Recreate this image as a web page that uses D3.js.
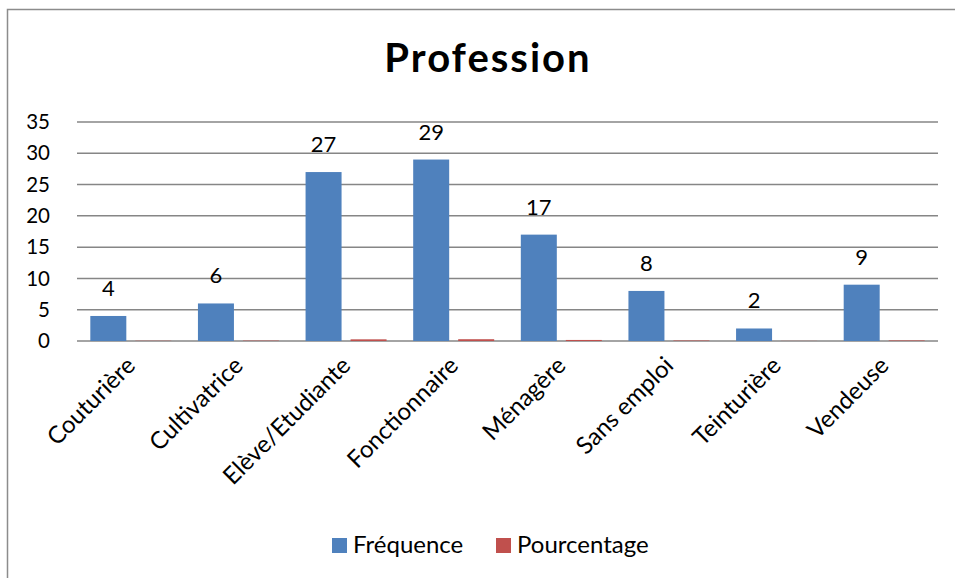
<!DOCTYPE html>
<html><head><meta charset="utf-8">
<script src="https://cdn.jsdelivr.net/npm/d3@7"></script>
<style>body{margin:0;background:#fff}svg{display:block}text{font-family:Lato,"Open Sans",sans-serif}</style>
</head><body>
<script>
const categories = ["Couturière","Cultivatrice","Elève/Etudiante","Fonctionnaire","Ménagère","Sans emploi","Teinturière","Vendeuse"];
const series = ["Fréquence","Pourcentage"];
const frequence = [4,6,27,29,17,8,2,9];
const pourcentage = [0.039,0.059,0.265,0.284,0.167,0.078,0.020,0.088];
const yTicks = [0,5,10,15,20,25,30,35];
const colors = ["#4F81BD","#C0504D"];

const W=955,H=578;
const svg=d3.select("body").append("svg").attr("width",W).attr("height",H);
svg.append("path").attr("d",`M7.5,${H}V9.5H${W}`).attr("fill","none").attr("stroke","#8c8c8c").attr("stroke-width",1.5);

const m={l:77,r:938,t:122,b:341};
const x0=d3.scaleBand().domain(categories).range([m.l,m.r]).padding(0);
const x1=d3.scaleBand().domain(series).range([0,x0.bandwidth()]).paddingInner(0.2).paddingOuter(0.296);
const y=d3.scaleLinear().domain([0,35]).range([m.b,m.t]);

svg.append("g").selectAll("line").data(yTicks).join("line")
 .attr("x1",m.l).attr("x2",m.r).attr("y1",d=>y(d)).attr("y2",d=>y(d))
 .attr("stroke","#868686").attr("stroke-width",1.5);

svg.append("g").selectAll("text").data(yTicks).join("text")
 .attr("x",50).attr("y",d=>y(d)).attr("dy","0.35em").attr("text-anchor","end")
 .attr("font-size",20.5).attr("fill","#000").text(d=>d);

const rows=categories.map((c,i)=>({c,vals:[frequence[i],pourcentage[i]]}));
const g=svg.append("g").selectAll("g").data(rows).join("g").attr("transform",d=>`translate(${x0(d.c)},0)`);
g.selectAll("rect").data(d=>d.vals.map((v,j)=>({s:series[j],v,j}))).join("rect")
 .attr("x",d=>x1(d.s)).attr("width",x1.bandwidth())
 .attr("y",d=>y(d.v)).attr("height",d=>y(0)-y(d.v)).attr("fill",d=>colors[d.j]);

g.append("text").attr("x",d=>x1(series[0])+x1.bandwidth()/2).attr("y",d=>y(d.vals[0])-20)
 .attr("text-anchor","middle").attr("font-size",22).attr("fill","#000").text(d=>d.vals[0]);

svg.append("g").selectAll("text").data(categories).join("text")
 .attr("text-anchor","end").attr("font-size",24).attr("fill","#000")
 .attr("transform",d=>`translate(${x0(d)+x0.bandwidth()/2+6},${m.b+26}) rotate(-45)`)
 .text(d=>d);

svg.append("text").attr("x",488).attr("y",72).attr("text-anchor","middle")
 .attr("font-size",40).attr("font-weight","bold").attr("letter-spacing",2).attr("fill","#000").text("Profession");

const legX=[332,496];
const lg=svg.append("g").selectAll("g").data(series).join("g").attr("transform",(d,i)=>`translate(${legX[i]},538)`);
lg.append("rect").attr("width",15).attr("height",15).attr("fill",(d,i)=>colors[i]);
lg.append("text").attr("x",21).attr("y",15).attr("font-size",24).attr("fill","#000").text(d=>d);
</script>
</body></html>
